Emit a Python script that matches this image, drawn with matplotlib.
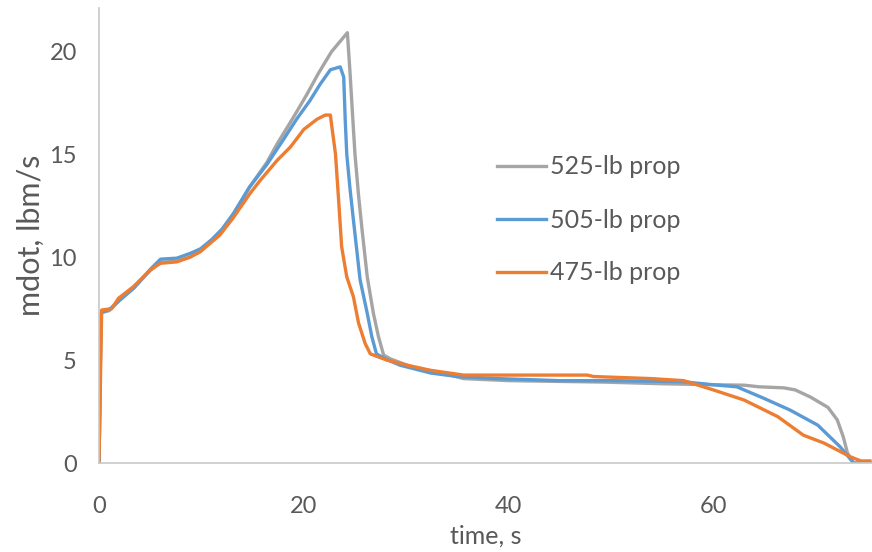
import matplotlib
matplotlib.use("Agg")
import matplotlib.pyplot as plt

plt.rcParams['font.family'] = ['Lato', 'DejaVu Sans']

# time, s / mdot, lbm/s
t_525 = [0, 0.2, 1.0, 2.0, 3.4, 5.0, 6.0, 7.6, 8.9, 9.9, 11.0, 12.0, 13.1, 14.7, 16.4,
         17.4, 19.0, 20.3, 21.4, 22.7, 24.26, 24.5, 25.0, 25.35, 25.7, 26.2, 26.8, 27.3,
         27.8, 28.5, 30.1, 31.0, 33.3, 35.6, 40.0, 49.3, 55.0, 60.0, 63.0, 64.5, 66.9,
         68.0, 69.5, 71.2, 72.1, 72.7, 73.1, 73.7, 75.3]
m_525 = [0, 7.3, 7.4, 7.9, 8.5, 9.35, 9.75, 9.8, 10.0, 10.35, 10.8, 11.3, 12.0, 13.4, 14.6,
         15.5, 16.8, 17.9, 18.9, 19.97, 20.9, 19.1, 15.0, 13.0, 11.3, 9.04, 7.27, 6.13,
         5.24, 5.05, 4.75, 4.6, 4.4, 4.1, 4.0, 3.93, 3.85, 3.8, 3.78, 3.7, 3.65,
         3.55, 3.2, 2.7, 2.1, 1.26, 0.49, 0, 0]

t_505 = [0, 0.2, 1.0, 2.0, 3.4, 5.0, 6.0, 7.6, 8.9, 9.9, 11.0, 12.0, 13.1, 14.7, 16.4,
         18.0, 19.3, 20.6, 21.6, 22.6, 23.56, 23.9, 24.05, 24.2, 24.5, 24.85, 25.5, 26.2,
         26.65, 27.1, 28.0, 29.4, 32.4, 35.0, 38.9, 45.0, 50.0, 57.0, 60.0, 62.3, 64.9,
         67.5, 70.2, 72.4, 73.7, 75.3]
m_505 = [0, 7.3, 7.45, 7.9, 8.5, 9.4, 9.9, 9.95, 10.18, 10.4, 10.85, 11.35, 12.1, 13.4, 14.5,
         15.7, 16.7, 17.6, 18.4, 19.1, 19.24, 18.75, 16.65, 15.0, 13.4, 11.8, 8.9, 7.27,
         6.13, 5.3, 5.05, 4.75, 4.37, 4.2, 4.1, 4.0, 4.0, 3.95, 3.8, 3.7, 3.15,
         2.57, 1.84, 0.78, 0.0, 0.0]

t_475 = [0, 0.26, 1.24, 1.9, 3.35, 5.0, 6.0, 7.6, 8.9, 9.9, 10.85, 11.8, 13.1, 14.76, 15.7,
         17.4, 18.7, 20.0, 21.3, 22.1, 22.6, 22.7, 23.1, 23.4, 23.7, 24.2, 24.85, 25.35,
         26.0, 26.5, 28.1, 30.1, 32.4, 35.6, 47.7, 48.3, 53.9, 57.1, 60.0, 63.0, 66.3,
         68.8, 70.8, 73.4, 74.4, 75.3]
m_475 = [0, 7.43, 7.5, 8.0, 8.56, 9.37, 9.7, 9.77, 10.0, 10.26, 10.67, 11.07, 11.9, 13.1, 13.7,
         14.7, 15.35, 16.2, 16.7, 16.9, 16.9, 16.5, 15.0, 12.8, 10.5, 9.04, 8.07, 6.8,
         5.8, 5.3, 5.0, 4.75, 4.5, 4.27, 4.27, 4.2, 4.1, 4.0, 3.55, 3.06, 2.25,
         1.35, 0.97, 0.3, 0.1, 0.1]

labels = ['525-lb prop', '505-lb prop', '475-lb prop']
colors = ['#A5A5A5', '#5B9BD5', '#ED7D31']

fig = plt.figure(figsize=(8.72, 5.52), dpi=100)
ax = fig.add_axes([99 / 872, 1 - 463 / 552, 1 - 99 / 872, (463 - 8) / 552])

for t, m, lab, c in zip([t_525, t_505, t_475], [m_525, m_505, m_475], labels, colors):
    ax.plot(t, m, color=c, lw=2.4, label=lab, solid_joinstyle='round')

ax.set_xlim(0, 75.5)
ax.set_ylim(0, 22.1)
ax.set_xticks([0, 20, 40, 60])
ax.set_yticks([0, 5, 10, 15, 20])
for s in ['top', 'right']:
    ax.spines[s].set_visible(False)
for s in ['left', 'bottom']:
    ax.spines[s].set_color('#C8C8C8')
    ax.spines[s].set_linewidth(1.2)
ax.tick_params(length=0, labelsize=17, colors='#595959', pad=16)
ax.tick_params(axis='x', pad=24)

ax.set_xlabel('time, s', fontsize=18, color='#595959', labelpad=5)
ax.set_ylabel('mdot, lbm/s', fontsize=22, color='#595959', labelpad=3)

ax.legend(loc='center left', bbox_to_anchor=(497 / 872, 1 - 220 / 552),
          bbox_transform=fig.transFigure, frameon=False, fontsize=18,
          handlelength=1.95, handletextpad=0.15, labelspacing=1.2,
          borderpad=0, borderaxespad=0, labelcolor='#595959')

fig.savefig('out.png', dpi=100)
